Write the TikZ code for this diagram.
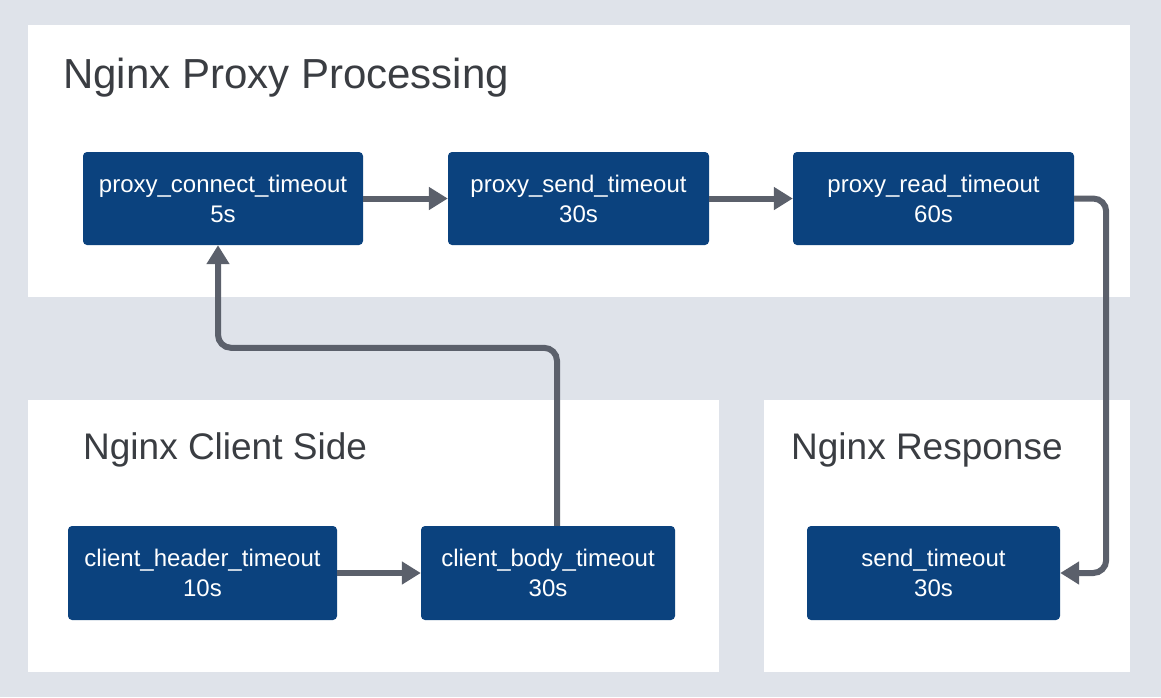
\documentclass[tikz,border=0pt]{standalone}
\usepackage{fontspec}
\setmainfont{Liberation Sans}
\usetikzlibrary{arrows.meta}
\definecolor{bgc}{HTML}{DFE3EA}
\definecolor{navy}{HTML}{0B427E}
\definecolor{arrc}{HTML}{5B606B}
\definecolor{titlec}{HTML}{3A3D42}
\tikzset{
  panel/.style={fill=white},
  tbox/.style={fill=navy, rounded corners=4pt, text=white, align=center, inner sep=0pt,
    minimum height=93pt, font=\fontsize{24}{30}\selectfont},
  ptitle/.style={anchor=base west, text=titlec, inner sep=0pt},
  arr/.style={draw=arrc, line width=6pt, rounded corners=13pt, -{Triangle[length=19pt,width=22pt]}}
}
\begin{document}
\begin{tikzpicture}[x=1pt,y=-1pt]
\fill[bgc] (0,0) rectangle (1161,697);
\useasboundingbox (0,0) rectangle (1161,697);
\fill[panel] (28,25) rectangle (1130,297);
\fill[panel] (28,400) rectangle (719,672);
\fill[panel] (764,400) rectangle (1130,672);
\node[ptitle, font=\fontsize{42}{50}\selectfont] (t1) at (63,88) {Nginx Proxy Processing};
\node[ptitle, font=\fontsize{37}{44}\selectfont] (t2) at (83,459) {Nginx Client Side};
\node[ptitle, font=\fontsize{37}{44}\selectfont] (t3) at (791,459) {Nginx Response};
\node[tbox, minimum width=280pt] (pc) at (223,198.5) {proxy\_connect\_timeout\\5s};
\node[tbox, minimum width=261pt] (ps) at (578.5,198.5) {proxy\_send\_timeout\\30s};
\node[tbox, minimum width=281pt] (pr) at (933.5,198.5) {proxy\_read\_timeout\\60s};
\node[tbox, minimum width=269pt, minimum height=94pt] (ch) at (202.5,573) {client\_header\_timeout\\10s};
\node[tbox, minimum width=254pt, minimum height=94pt] (cb) at (548,573) {client\_body\_timeout\\30s};
\node[tbox, minimum width=253pt, minimum height=94pt] (st) at (933.5,573) {send\_timeout\\30s};
\draw[arr] (pc.east) -- (ps.west);
\draw[arr] (ps.east) -- (pr.west);
\draw[arr] (ch.east) -- (cb.west);
\draw[arr] ([xshift=9pt]cb.north) -- ++(0,-178) -| ([xshift=-5pt]pc.south);
\draw[arr] (pr.east) -- ++(32,0) |- (st.east);
\end{tikzpicture}
\end{document}
